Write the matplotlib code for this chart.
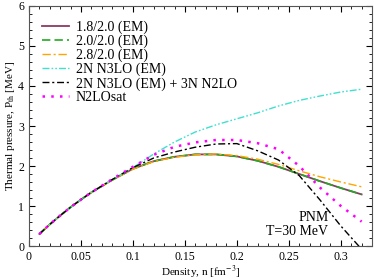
import matplotlib
matplotlib.use("Agg")
import matplotlib.pyplot as plt
from matplotlib.ticker import MultipleLocator, FuncFormatter

# ---------------------------------------
# Data
# ---------------------------------------
density = [0.01, 0.02, 0.03, 0.04, 0.05, 0.06, 0.08, 0.10, 0.12, 0.14,
           0.16, 0.18, 0.20, 0.22, 0.24, 0.26, 0.28, 0.30, 0.32]

low = [0.30, 0.54, 0.76, 0.97, 1.16, 1.34, 1.65]

p_18_20 = low + [1.93, 2.12, 2.23, 2.29, 2.29, 2.24, 2.13, 1.98, 1.80, 1.62, 1.45, 1.29]
p_20_20 = low + [1.93, 2.12, 2.23, 2.29, 2.29, 2.24, 2.13, 1.98, 1.80, 1.62, 1.45, 1.29]
p_28_20 = low + [1.92, 2.11, 2.22, 2.28, 2.30, 2.26, 2.17, 2.04, 1.88, 1.73, 1.60, 1.48]
p_2n = low[:6] + [1.66, 1.96, 2.30, 2.60, 2.85, 3.03, 3.18, 3.33, 3.50, 3.64, 3.75, 3.85, 3.92]
p_2n3n = low[:6] + [1.66, 1.96, 2.20, 2.35, 2.47, 2.55, 2.56, 2.38, 2.15, 1.76, 1.15, 0.50, -0.08]
p_sat = low[:6] + [1.67, 1.98, 2.28, 2.48, 2.59, 2.65, 2.65, 2.57, 2.42, 2.00, 1.46, 1.00, 0.61]

labels = ["1.8/2.0 (EM)", "2.0/2.0 (EM)", "2.8/2.0 (EM)", "2N N3LO (EM)",
          "2N N3LO (EM) + 3N N2LO", "N2LOsat"]

# ---------------------------------------
# Figure
# ---------------------------------------
plt.rcParams['font.family'] = ['Liberation Serif', 'DejaVu Serif']
plt.rcParams['mathtext.fontset'] = 'stix'

fig = plt.figure(figsize=(3.74, 2.8), dpi=100)
ax = fig.add_axes([0.0775, 0.1214, 0.9172, 0.8572])

ax.plot(density, p_18_20, color='#8b3a62', lw=1.3, ls='-', label=labels[0])
ax.plot(density, p_20_20, color='#22aa22', lw=1.2, ls=(0, (5, 2.5)), label=labels[1])
ax.plot(density, p_28_20, color='#ffa500', lw=1.0, ls=(0, (6, 2, 1.5, 2)), label=labels[2])
ax.plot(density, p_2n, color='#40e0d0', lw=1.0, ls=(0, (5, 1.5, 1.2, 1.5, 1.2, 1.5)), label=labels[3])
ax.plot(density, p_2n3n, color='black', lw=1.0, ls=(0, (5, 2, 1.5, 2)), label=labels[4])
ax.plot(density, p_sat, color='#ff00ff', lw=1.8, ls=(0, (1, 2.5)), label=labels[5])

ax.set_xlim(0, 0.33)
ax.set_ylim(0, 6)
ax.xaxis.set_major_locator(MultipleLocator(0.05))
ax.xaxis.set_minor_locator(MultipleLocator(0.01))
ax.yaxis.set_major_locator(MultipleLocator(1))
ax.yaxis.set_minor_locator(MultipleLocator(0.2))
ax.xaxis.set_major_formatter(FuncFormatter(lambda v, p: "%g" % round(v, 3)))
ax.tick_params(which='both', direction='in', top=True, right=True, labelsize=8.5)
ax.tick_params(which='major', length=4.5)
ax.tick_params(which='minor', length=2.5)
for s in ax.spines.values():
    s.set_color('#555555')

ax.set_xlabel(r"Density, n [fm$^{-3}$]", fontsize=8, labelpad=1)
ax.set_ylabel(r"Thermal pressure, P$_{\rm th}$ [MeV]", fontsize=8, labelpad=1)

ax.text(0.288, 0.55, "PNM", fontsize=10, ha='right', va='bottom')
ax.text(0.288, 0.2, "T=30 MeV", fontsize=10, ha='right', va='bottom')

ax.legend(loc='upper left', frameon=False, fontsize=10, handlelength=1.9,
          handletextpad=0.5, labelspacing=0.05, bbox_to_anchor=(0.015, 0.975),
          borderaxespad=0.2)

fig.savefig("out.png", dpi=100)
